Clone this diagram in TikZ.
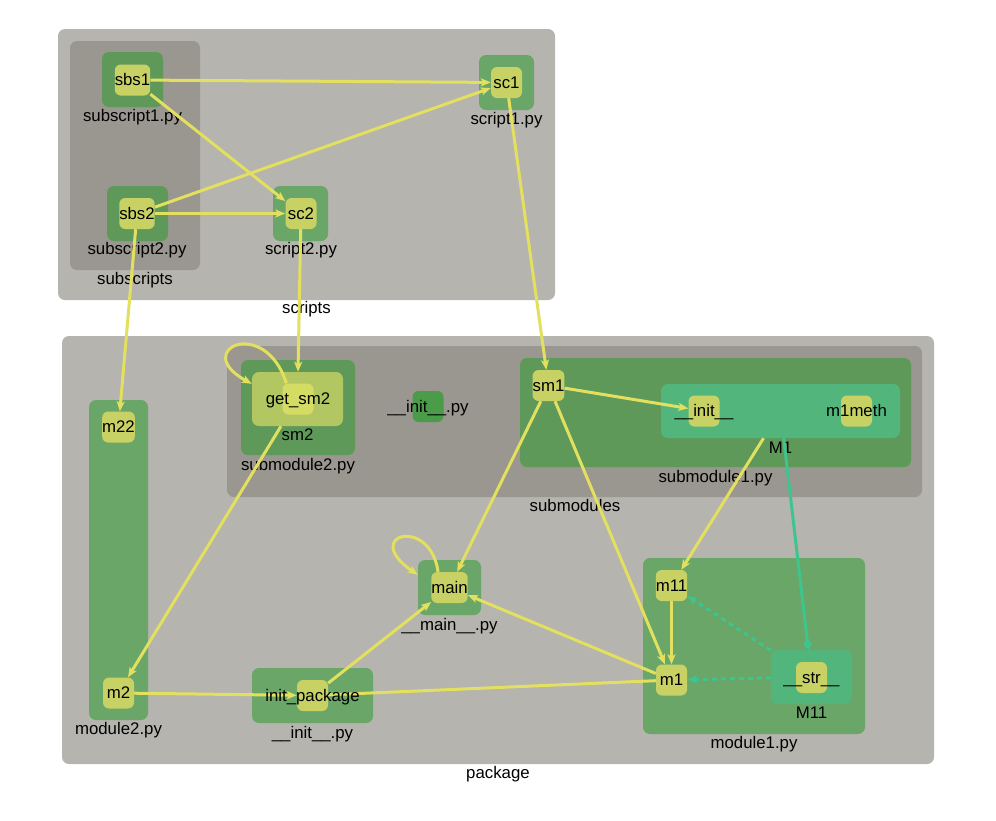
\documentclass[tikz,border=0pt]{standalone}
\usepackage{fontspec}
\setmainfont{Liberation Sans}
\usetikzlibrary{arrows.meta,backgrounds}
\definecolor{pkggray}{RGB}{181,180,174}
\definecolor{subgray}{RGB}{154,150,144}
\definecolor{filedark}{RGB}{94,153,90}
\definecolor{filelight}{RGB}{106,166,104}
\definecolor{initgreen}{RGB}{74,156,72}
\definecolor{funcyel}{RGB}{200,210,100}
\definecolor{clsyel}{RGB}{178,198,98}
\definecolor{methyel}{RGB}{212,220,100}
\definecolor{clsteal}{RGB}{82,182,124}
\definecolor{edgeyel}{RGB}{226,224,94}
\definecolor{edgeteal}{RGB}{62,196,140}
\newcommand{\lblfont}{\fontsize{16.8}{20}\selectfont}
\tikzset{
  box/.style={inner sep=0pt, rounded corners=7pt},
  pkg/.style={box, fill=pkggray},
  subpkg/.style={box, fill=subgray},
  modd/.style={box, fill=filedark},
  modl/.style={box, fill=filelight},
  cls/.style={box, fill=clsteal},
  func/.style={box, fill=funcyel, rounded corners=6pt, minimum width=31pt,
    minimum height=31pt, text height=13pt, text depth=2pt, font=\lblfont},
  lab/.style={inner sep=0pt, anchor=base, font=\lblfont},
  call/.style={draw=edgeyel, line width=3pt,
    -{Stealth[length=10pt,width=8pt,inset=2.5pt]}},
  link/.style={draw=edgeyel, line width=3pt},
  uses/.style={draw=edgeteal, line width=3pt, dash pattern=on 5pt off 4pt,
    -{Stealth[length=10pt,width=8pt,inset=2.5pt]}},
  inherit/.style={draw=edgeteal, line width=3pt,
    -{Diamond[length=11pt,width=9pt]}}
}

\begin{document}
\begin{tikzpicture}[x=1pt,y=-1pt]
\useasboundingbox (0,0) rectangle (996,820);

% clusters and their labels
\begin{scope}[on background layer]
\fill[white] (0,0) rectangle (996,820);
\node[pkg, minimum width=497pt, minimum height=271pt] (scripts) at (306.5,164.5) {};
\node[subpkg, minimum width=130pt, minimum height=229pt] (subscripts) at (135,155.5) {};
\node[modd, minimum width=61pt, minimum height=55pt] (subscript1) at (132.5,79.5) {};
\node[modd, minimum width=61pt, minimum height=55pt] (subscript2) at (137.5,213.5) {};
\node[modl, minimum width=55pt, minimum height=55pt] (script2) at (300.5,213.5) {};
\node[modl, minimum width=55pt, minimum height=55pt] (script1) at (506.5,82.5) {};
\node[lab] at (132.5,121) {subscript1.py};
\node[lab] at (137,254) {subscript2.py};
\node[lab] at (301,254) {script2.py};
\node[lab] at (506.5,124) {script1.py};
\node[lab] at (135,284) {subscripts};
\node[lab] at (306.5,313) {scripts};

\node[pkg, minimum width=872pt, minimum height=428pt] (package) at (498,550) {};
\node[subpkg, minimum width=695pt, minimum height=151pt] (submodules) at (574.5,421.5) {};
\node[modd, minimum width=114pt, minimum height=95pt] (submodule2) at (298,407.5) {};
\node[box, fill=clsyel, minimum width=91pt, minimum height=54pt] (sm2) at (297.5,399) {};
\node[modd, minimum width=391pt, minimum height=109pt] (submodule1) at (715.5,412.5) {};
\node[cls, minimum width=239pt, minimum height=54pt] (M1) at (780.5,411) {};
\node[modl, minimum width=59pt, minimum height=320pt] (module2) at (118.5,560) {};
\node[modl, minimum width=121pt, minimum height=55pt] (pkginit) at (312.5,695.5) {};
\node[modl, minimum width=63pt, minimum height=55pt] (mainfile) at (449.5,587.5) {};
\node[modl, minimum width=222pt, minimum height=176pt] (module1) at (754,646) {};
\node[cls, minimum width=81pt, minimum height=54pt] (M11) at (811.5,677) {};
\node[lab] at (498,778) {package};
\node[lab] at (575,511) {submodules};
\node[lab] at (298,470) {submodule2.py};
\node[lab] at (297.5,440) {sm2};
\node[lab] at (715.5,482) {submodule1.py};
\node[lab] at (780.5,453) {M1};
\node[lab] at (118.5,734) {module2.py};
\node[lab] at (312.5,738) {\_\_init\_\_.py};
\node[lab] at (449.5,630) {\_\_main\_\_.py};
\node[lab] at (754,748) {module1.py};
\node[lab] at (811.5,718) {M11};
\end{scope}

% functions and methods
\node[func] (sbs1) at (132.5,80) {sbs1};
\node[func] (sbs2) at (137,213.5) {sbs2};
\node[func] (sc2) at (301,213.5) {sc2};
\node[func] (sc1) at (506.5,82.5) {sc1};
\node[func, fill=methyel] (getsm2) at (298,399) {\makebox[0pt]{get\_sm2}};
\node[func, fill=initgreen] (subinit) at (428,406.5) {\makebox[0pt]{\_\_init\_\_.py}};
\node[func] (sm1) at (548.5,385.5) {sm1};
\node[func] (init) at (704,411) {\makebox[0pt]{\_\_init\_\_}};
\node[func] (m1meth) at (856.5,411) {\makebox[0pt]{m1meth}};
\node[func] (m22) at (118.5,427) {m22};
\node[func] (m2) at (118.5,693) {m2};
\node[func] (initpkg) at (312.5,695.5) {\makebox[0pt]{init\_package}};
\node[func] (main) at (449.5,587.5) {main};
\node[func] (m11) at (671.5,585.5) {m11};
\node[func] (m1) at (671.5,680) {m1};
\node[func] (str) at (811.5,677.5) {\makebox[0pt]{\_\_str\_\_}};

% edges
\begin{scope}[on background layer]
\draw[call] (sbs1) -- (sc1);
\draw[call] (sbs1) -- (sc2);
\draw[call] (sbs2) -- (sc1);
\draw[call] (sbs2) -- (sc2);
\draw[call] (sbs2) -- (m22);
\draw[call] (sc2) -- (sm2);
\draw[call] (sc1) -- (sm1);
\draw[call] ([xshift=4pt]getsm2.north west) .. controls (265,315) and (190,350) .. ([yshift=-12pt]sm2.north west);
\draw[call] (sm2) -- (m2);
\draw[call] (sm1) -- (init);
\draw[call] (sm1) -- (main);
\draw[call] (sm1) -- (m1);
\draw[call] (M1) -- (m11);
\draw[inherit] (M1) -- (M11);
\draw[call] (m11) -- (m1);
\draw[uses] (M11) -- (m11);
\draw[uses] (M11) -- (m1);
\draw[call] (m1) -- (main);
\draw[call] (initpkg) -- (main);
\draw[call] (m2) -- (initpkg);
\draw[link] (initpkg) -- (m1);
\draw[call] ([xshift=7pt]main.north west) .. controls (430,515) and (360,535) .. ([yshift=-15pt]mainfile.north west);
\end{scope}
\end{tikzpicture}
\end{document}
